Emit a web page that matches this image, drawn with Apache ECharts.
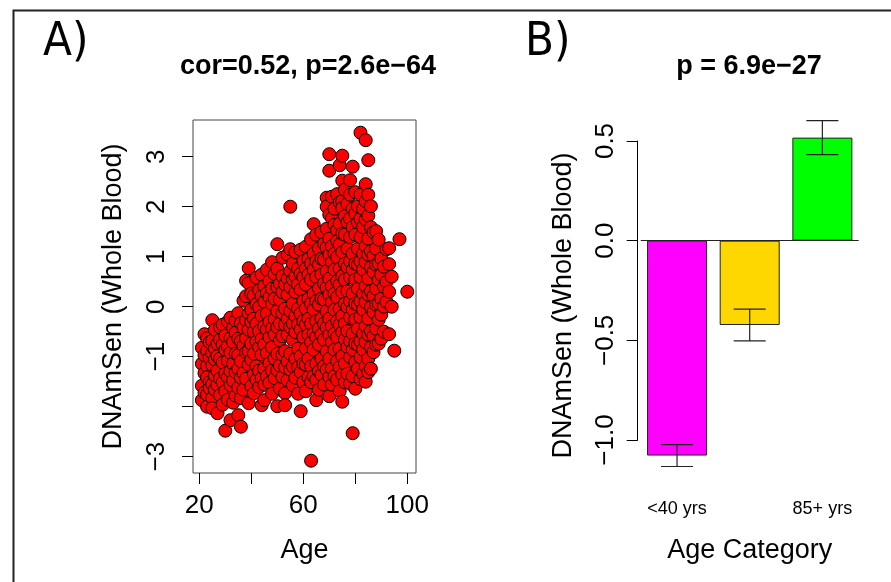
<!DOCTYPE html>
<html>
<head>
<meta charset="utf-8">
<script src="https://cdn.jsdelivr.net/npm/echarts@6/dist/echarts.min.js"></script>
<style>
  html, body { margin: 0; padding: 0; background: #fff; }
  #main { width: 891px; height: 582px; }
</style>
</head>
<body>
<div id="main"></div>
<script>
// panel A: age columns and the DNAmSen values read at each age
var ageCols = [21, 22, 23, 24, 25, 26, 27, 28, 29, 30, 31, 32, 33, 34, 35, 36, 37, 38, 39, 40,
  41, 42, 43, 44, 45, 46, 47, 48, 49, 50, 51, 52, 53, 54, 55, 56, 57, 58, 59, 60,
  61, 62, 63, 64, 65, 66, 67, 68, 69, 70, 71, 72, 73, 74, 75, 76, 77, 78, 79, 80,
  81, 82, 83, 84, 85, 86, 87, 88, 89, 90, 91, 92, 93, 94, 95, 97, 100];
var senCols = [
  [-0.82, -1.14, -1.58, -1.87],
  [-0.55, -0.97, -1.33, -1.72],
  [-0.63, -0.88, -1.19, -1.41, -1.76, -2.0],
  [-0.71, -1.02, -1.51, -1.63],
  [-0.27, -0.68, -0.93, -1.17, -1.55, -1.83, -2.03],
  [-0.46, -0.84, -1.06, -1.38, -1.66],
  [-0.74, -0.99, -1.28, -1.57, -2.13],
  [-0.41, -0.66, -1.04, -1.44, -1.77],
  [-0.36, -0.76, -1.12, -1.51, -1.96],
  [-0.58, -0.86, -1.34, -1.69, -2.48],
  [-0.3, -0.79, -1.08, -1.41, -1.86],
  [-0.22, -0.63, -0.92, -1.29, -1.57, -2.27],
  [-0.43, -0.71, -1.14, -1.48, -1.92],
  [-0.28, -0.52, -0.94, -1.31, -1.78],
  [-0.13, -0.64, -0.97, -1.24, -1.62, -2.17],
  [-0.33, -0.69, -1.09, -1.42, -1.83, -2.4],
  [0.12, -0.42, -0.78, -1.33, -1.66],
  [0.52, 0.21, -0.27, -0.63, -0.91, -1.44],
  [0.47, 0.77, -0.14, -0.46, -0.89, -1.16, -1.93],
  [0.26, -0.06, -0.31, -0.74, -1.06, -1.59],
  [0.22, -0.24, -0.5, -0.94, -1.35, -1.73],
  [0.58, 0.05, -0.34, -0.7, -1.19, -1.46],
  [0.33, -0.01, -0.49, -0.81, -1.28, -1.61],
  [0.64, 0.21, -0.18, -0.65, -0.96, -1.43, -1.97],
  [0.41, 0.1, -0.39, -0.76, -1.24, -1.56, -1.87],
  [0.74, 0.27, -0.14, -0.46, -0.93, -1.39],
  [0.51, 0.19, -0.3, -0.61, -1.13, -1.52],
  [0.89, 0.36, 0.05, -0.44, -0.81, -1.28, -1.74],
  [0.65, 0.16, -0.25, -0.56, -1.04, -1.43],
  [1.25, 0.76, 0.39, -0.09, -0.41, -0.94, -1.27, -1.99],
  [0.46, 0.14, -0.34, -0.67, -1.18, -1.64],
  [0.98, 0.61, 0.29, -0.13, -0.59, -0.96, -1.41],
  [0.44, -0.04, -0.36, -0.89, -1.21, -1.73, -1.97],
  [1.04, 0.56, 0.24, -0.24, -0.56, -1.09, -1.47],
  [2.0, 1.15, 0.71, 0.39, -0.09, -0.41, -0.94, -1.26],
  [0.86, 0.54, 0.06, -0.34, -0.66, -1.19, -1.57],
  [1.09, 0.61, 0.29, -0.19, -0.51, -1.04, -1.42],
  [0.76, 0.44, -0.04, -0.36, -0.84, -1.21, -1.74],
  [1.14, 0.66, 0.34, -0.14, -0.46, -0.99, -1.31, -2.09],
  [0.91, 0.59, 0.11, -0.29, -0.61, -1.14, -1.51],
  [1.2, 0.76, 0.44, -0.04, -0.36, -0.84, -1.16, -1.69],
  [0.96, 0.64, 0.16, -0.24, -0.56, -1.04, -1.41],
  [1.35, 0.86, 0.54, 0.06, -0.34, -0.71, -1.19, -1.51, -3.08],
  [1.65, 1.06, 0.74, 0.26, -0.06, -0.54, -0.86, -1.39],
  [1.44, 0.91, 0.59, 0.11, -0.29, -0.61, -1.14, -1.46, -1.87],
  [1.16, 0.84, 0.36, 0.04, -0.44, -0.76, -1.29, -1.66],
  [1.49, 0.96, 0.64, 0.16, -0.24, -0.56, -1.04, -1.36],
  [1.26, 0.94, 0.46, 0.14, -0.34, -0.66, -1.19, -1.56],
  [2.18, 2.0, 1.56, 1.19, 0.71, 0.39, -0.09, -0.41, -0.89, -1.26],
  [3.05, 2.72, 1.84, 1.36, 1.04, 0.56, 0.24, -0.24, -0.56, -1.04, -1.41, -1.79],
  [2.2, 1.77, 1.21, 0.89, 0.41, 0.09, -0.39, -0.71, -1.24, -1.56],
  [1.96, 1.64, 1.06, 0.74, 0.26, -0.06, -0.54, -0.86, -1.39],
  [2.25, 1.53, 1.31, 0.99, 0.51, 0.19, -0.29, -0.61, -1.09, -1.46],
  [2.83, 2.09, 1.66, 1.24, 0.76, 0.44, -0.04, -0.36, -0.84, -1.21, -1.69],
  [3.02, 2.52, 2.11, 1.97, 1.46, 1.09, 0.61, 0.29, -0.19, -0.51, -0.99, -1.36, -1.9],
  [2.34, 1.81, 1.44, 0.86, 0.54, 0.06, -0.34, -0.66, -1.14, -1.51],
  [2.06, 1.69, 1.16, 0.79, 0.31, -0.01, -0.49, -0.81, -1.34],
  [2.53, 2.24, 1.76, 1.39, 0.91, 0.59, 0.11, -0.21, -0.69, -1.01, -1.54],
  [2.8, 1.96, 1.59, 1.06, 0.74, 0.26, -0.06, -0.54, -0.86, -1.39, -2.53],
  [2.29, 1.86, 1.44, 0.86, 0.54, 0.06, -0.26, -0.74, -1.11, -1.64],
  [2.01, 1.69, 1.16, 0.84, 0.36, 0.04, -0.44, -0.76, -1.24],
  [3.48, 2.24, 1.76, 1.39, 0.91, 0.59, 0.11, -0.21, -0.69, -1.01, -1.45],
  [1.96, 1.59, 1.06, 0.74, 0.26, -0.06, -0.54, -0.86, -1.34],
  [3.33, 2.45, 2.11, 1.74, 1.21, 0.89, 0.41, 0.09, -0.39, -0.71, -1.19, -1.5],
  [2.93, 2.24, 1.82, 1.36, 1.04, 0.56, 0.24, -0.24, -0.56, -1.04, -1.31],
  [2.01, 1.59, 1.11, 0.79, 0.31, -0.01, -0.49, -0.81, -1.24],
  [1.49, 1.01, 0.69, 0.21, -0.11, -0.59, -0.91],
  [1.51, 1.16, 0.84, 0.36, 0.04, -0.44, -0.76],
  [1.34, 0.86, 0.54, 0.06, -0.26, -0.74],
  [0.96, 0.64, 0.16, -0.16, -0.64],
  [0.8, 0.4, 0.0, -0.5],
  [1.15, 0.5, 0.1],
  [1.17, 0.85, 0.3, -0.55],
  [0.6, 0.0],
  [-0.88],
  [1.35],
  [0.3]
];
var ageTicks = [20, 40, 60, 80, 100];
var ageLabels = [20, 60, 100];
var senTicks = [-3, -2, -1, 0, 1, 2, 3];
var senLabels = [-3, -1, 0, 1, 2, 3];

// panel B: age categories, mean DNAmSen and standard error
var categories = ['<40 yrs', '40-85 yrs', '85+ yrs'];
var catMeans = [-1.078, -0.423, 0.517];
var catSE = [0.055, 0.08, 0.085];
var catColors = ['#FF00FF', '#FFD700', '#00FF00'];

var FONT = "'Liberation Sans', Arial, Helvetica, sans-serif";
var NARROW = "'Liberation Sans Narrow', 'DejaVu Sans Condensed', sans-serif";
var minus = function (v) {
  return v < 0 ? '\u2212' + Math.abs(v) : String(v);
};

var scatterData = [];
ageCols.forEach(function (a, i) {
  senCols[i].forEach(function (v) { scatterData.push([a, v]); });
});

var barData = catMeans.map(function (m, i) {
  return { value: m, itemStyle: { color: catColors[i] } };
});
var errData = catMeans.map(function (m, i) {
  return [i, m - catSE[i], m + catSE[i]];
});

var chart = echarts.init(document.getElementById('main'));
var option = {
  backgroundColor: '#fff',
  animation: false,
  textStyle: { fontFamily: FONT, color: '#000' },
  graphic: [{
    type: 'rect', left: 11, top: 8, silent: true,
    shape: { width: 900, height: 600 },
    style: { fill: 'none', stroke: '#222', lineWidth: 2 }
  }],
  title: [
    { text: 'A)', left: 43, top: 19, padding: 0,
      textStyle: { fontFamily: NARROW, fontWeight: 'normal', fontSize: 47, color: '#000' } },
    { text: 'B)', left: 525, top: 19, padding: 0,
      textStyle: { fontFamily: NARROW, fontWeight: 'normal', fontSize: 47, color: '#000' } },
    { text: 'cor=0.52, p=2.6e\u221264', left: 308, textAlign: 'center', top: 53, padding: 0,
      textStyle: { fontFamily: FONT, fontWeight: 'bold', fontSize: 27, color: '#000' } },
    { text: 'p = 6.9e\u221227', left: 749, textAlign: 'center', top: 53, padding: 0,
      textStyle: { fontFamily: FONT, fontWeight: 'bold', fontSize: 27, color: '#000' } }
  ],
  grid: [
    { left: 193, top: 120, width: 223, height: 353, show: true, borderColor: '#444', borderWidth: 1, backgroundColor: 'transparent' },
    { left: 640.7, top: 141, width: 218, height: 299 }
  ],
  xAxis: [{
    gridIndex: 0, type: 'value', min: 17.58, max: 103.35,
    name: 'Age', nameLocation: 'middle', nameGap: 64,
    nameTextStyle: { fontSize: 27, color: '#000' },
    axisLine: { show: false, onZero: false },
    splitLine: { show: false },
    axisTick: { show: true, length: 11, customValues: ageTicks, lineStyle: { color: '#000' } },
    axisLabel: { customValues: ageLabels, margin: 20, fontSize: 26, color: '#000' }
  }, {
    gridIndex: 1, type: 'category', data: categories,
    name: 'Age Category', nameLocation: 'middle', nameGap: 97,
    nameTextStyle: { fontSize: 27, color: '#000' },
    axisLine: { show: false, onZero: false },
    axisTick: { show: false },
    splitLine: { show: false },
    axisLabel: {
      margin: 60, fontSize: 18, color: '#000',
      formatter: function (v, i) { return i === 1 ? '' : v; }
    }
  }],
  yAxis: [{
    gridIndex: 0, type: 'value', min: -3.326, max: 3.734,
    name: 'DNAmSen (Whole Blood)', nameLocation: 'middle', nameGap: 66, nameRotate: 90,
    nameTextStyle: { fontSize: 27, color: '#000' },
    axisLine: { show: false, onZero: false },
    splitLine: { show: false },
    axisTick: { show: true, length: 11, customValues: senTicks, lineStyle: { color: '#000' } },
    axisLabel: { customValues: senLabels, rotate: 90, margin: 23, fontSize: 26, color: '#000',
      formatter: minus }
  }, {
    gridIndex: 1, type: 'value', min: -1, max: 0.5, interval: 0.5, offset: 3,
    name: 'DNAmSen (Whole Blood)', nameLocation: 'middle', nameGap: 61, nameRotate: 90,
    nameTextStyle: { fontSize: 27, color: '#000', padding: [0, 30, 0, 0] },
    axisLine: { show: true, onZero: false, lineStyle: { color: '#000', width: 1 } },
    splitLine: { show: false },
    axisTick: { show: true, length: 11, lineStyle: { color: '#000' } },
    axisLabel: { rotate: 90, margin: 19, fontSize: 26, color: '#000',
      formatter: function (v) { return v < 0 ? '\u2212' + Math.abs(v).toFixed(1) : v.toFixed(1); } }
  }],
  series: [{
    type: 'scatter', xAxisIndex: 0, yAxisIndex: 0,
    data: scatterData,
    symbol: 'circle', symbolSize: 13,
    itemStyle: { color: '#FF0000', borderColor: '#000', borderWidth: 1, opacity: 1 }
  }, {
    type: 'bar', xAxisIndex: 1, yAxisIndex: 1, z: 2,
    data: barData, barWidth: 60, clip: false,
    itemStyle: { borderColor: '#222', borderWidth: 1 },
    markLine: {
      silent: true, symbol: 'none', label: { show: false },
      lineStyle: { color: '#222', type: 'solid', width: 1 },
      data: [{ yAxis: 0 }]
    }
  }, {
    type: 'custom', xAxisIndex: 1, yAxisIndex: 1, clip: false, z: 10,
    data: errData,
    renderItem: function (params, api) {
      var lo = api.coord([api.value(0), api.value(1)]);
      var hi = api.coord([api.value(0), api.value(2)]);
      var half = 16;
      var st = { stroke: '#222', lineWidth: 1.2 };
      return {
        type: 'group',
        children: [
          { type: 'line', shape: { x1: lo[0], y1: lo[1], x2: hi[0], y2: hi[1] }, style: st },
          { type: 'line', shape: { x1: lo[0] - half, y1: lo[1], x2: lo[0] + half, y2: lo[1] }, style: st },
          { type: 'line', shape: { x1: hi[0] - half, y1: hi[1], x2: hi[0] + half, y2: hi[1] }, style: st }
        ]
      };
    }
  }]
};
chart.setOption(option);
</script>
</body>
</html>
